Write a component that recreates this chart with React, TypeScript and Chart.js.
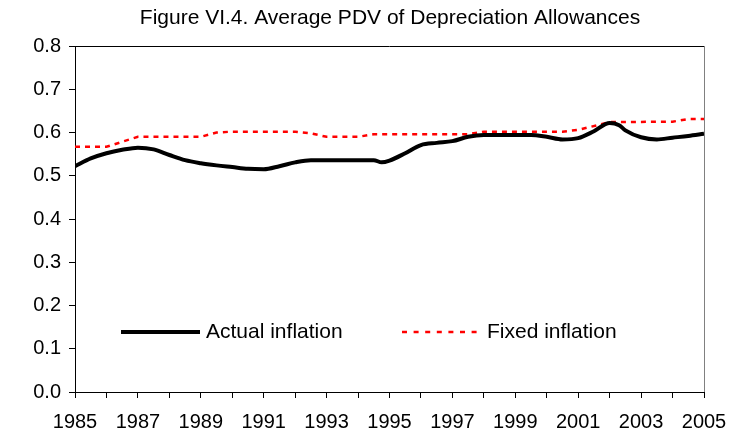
import React, { useEffect, useRef } from "react";
import { Chart, registerables } from "chart.js";

Chart.register(...registerables);

const TITLE = "Figure VI.4. Average PDV of Depreciation Allowances";
const SERIES_NAMES = ["Actual inflation", "Fixed inflation"];
const Y_TICKS_MIN = 0;
const Y_TICKS_MAX = 0.8;

const actualYears = [
  1985.0, 1985.5, 1986.0, 1986.5, 1987.0, 1987.5, 1988.0, 1988.5, 1989.0, 1989.5,
  1990.0, 1990.5, 1991.0, 1991.5, 1992.0, 1992.5, 1993.0, 1993.5, 1994.0, 1994.5,
  1994.75, 1995.0, 1995.5, 1996.0, 1996.5, 1997.0, 1997.5, 1998.0, 1998.5, 1999.0,
  1999.5, 2000.0, 2000.5, 2001.0, 2001.5, 2002.0, 2002.3, 2002.5, 2003.0, 2003.5,
  2004.0, 2004.5, 2005.0,
];
const actualValues = [
  0.522, 0.540, 0.552, 0.560, 0.565, 0.561, 0.548, 0.536, 0.529, 0.524,
  0.520, 0.516, 0.515, 0.522, 0.531, 0.536, 0.536, 0.536, 0.536, 0.536,
  0.531, 0.535, 0.552, 0.571, 0.576, 0.580, 0.590, 0.594, 0.594, 0.594,
  0.594, 0.590, 0.584, 0.587, 0.603, 0.622, 0.617, 0.605, 0.589, 0.584,
  0.588, 0.592, 0.597,
];

const fixedYears = [
  1985.0, 1986.0, 1987.0, 1989.0, 1989.5, 1990.0, 1992.0, 1992.5, 1993.0, 1994.0,
  1994.5, 1997.5, 1998.0, 2000.5, 2001.0, 2002.0, 2004.0, 2004.5, 2005.0,
];
const fixedValues = [
  0.567, 0.567, 0.590, 0.590, 0.600, 0.602, 0.602, 0.598, 0.590, 0.590,
  0.596, 0.596, 0.602, 0.602, 0.606, 0.624, 0.625, 0.631, 0.631,
];

const FONT = "'Liberation Sans', Arial, sans-serif";

export default function App() {
  const ref = useRef<HTMLCanvasElement | null>(null);

  useEffect(() => {
    if (!ref.current) return;
    const decor = {
      id: "decor",
      afterDraw(chart: any) {
        const { ctx, chartArea } = chart;
        ctx.save();
        // title
        ctx.fillStyle = "#000";
        ctx.font = `21px ${FONT}`;
        ctx.textAlign = "center";
        ctx.textBaseline = "middle";
        ctx.fillText(TITLE, 390, 18);
        // top and right border
        ctx.lineWidth = 1;
        ctx.strokeStyle = "#000";
        ctx.beginPath();
        ctx.moveTo(chartArea.left, chartArea.top + 0.5);
        ctx.lineTo(chartArea.right, chartArea.top + 0.5);
        ctx.stroke();
        ctx.strokeStyle = "#808080";
        ctx.beginPath();
        ctx.moveTo(chartArea.right + 0.5, chartArea.top);
        ctx.lineTo(chartArea.right + 0.5, chartArea.bottom);
        ctx.stroke();
        // legend
        const ly = 332;
        ctx.strokeStyle = "#000";
        ctx.lineWidth = 4;
        ctx.setLineDash([]);
        ctx.beginPath();
        ctx.moveTo(121, ly);
        ctx.lineTo(200, ly);
        ctx.stroke();
        ctx.font = `21px ${FONT}`;
        ctx.textAlign = "left";
        ctx.fillStyle = "#000";
        ctx.fillText(SERIES_NAMES[0], 206, ly);
        ctx.strokeStyle = "#ff0000";
        ctx.lineWidth = 2.5;
        ctx.setLineDash([5, 6.6]);
        ctx.beginPath();
        ctx.moveTo(402, ly);
        ctx.lineTo(477, ly);
        ctx.stroke();
        ctx.setLineDash([]);
        ctx.fillText(SERIES_NAMES[1], 487, ly);
        ctx.restore();
      },
    };

    const chart = new Chart(ref.current, {
      type: "line",
      data: {
        datasets: [
          {
            label: SERIES_NAMES[0],
            data: actualYears.map((x, i) => ({ x, y: actualValues[i] })),
            borderColor: "#000",
            borderWidth: 4,
            pointRadius: 0,
            cubicInterpolationMode: "monotone",
            fill: false,
          },
          {
            label: SERIES_NAMES[1],
            data: fixedYears.map((x, i) => ({ x, y: fixedValues[i] })),
            borderColor: "#ff0000",
            borderWidth: 2.5,
            borderDash: [5, 5],
            pointRadius: 0,
            tension: 0,
            fill: false,
          },
        ],
      },
      options: {
        animation: false,
        responsive: true,
        maintainAspectRatio: false,
        layout: { padding: { top: 46, right: 28, left: 0, bottom: 0 } },
        plugins: { legend: { display: false }, tooltip: { enabled: false }, title: { display: false } },
        scales: {
          x: {
            type: "linear",
            min: 1985,
            max: 2005,
            afterFit(axis: any) {
              axis.height = 42;
              axis.paddingRight = 0;
              axis.paddingLeft = 0;
            },
            ticks: {
              stepSize: 1,
              autoSkip: false,
              maxRotation: 0,
              color: "#000",
              font: { family: FONT, size: 20 },
              padding: 12,
              callback: (v: any) => (Number(v) % 2 === 1 ? String(v) : ""),
            },
            grid: { drawOnChartArea: false, drawTicks: true, tickLength: 6, color: "#000" },
            border: { color: "#000", width: 1 },
          },
          y: {
            min: Y_TICKS_MIN,
            max: Y_TICKS_MAX,
            afterFit(axis: any) {
              axis.width = 75;
              axis.paddingTop = 0;
              axis.paddingBottom = 0;
            },
            ticks: {
              stepSize: 0.1,
              color: "#000",
              font: { family: FONT, size: 20 },
              padding: 8,
              callback: (v: any) => Number(v).toFixed(1),
            },
            grid: { drawOnChartArea: false, drawTicks: true, tickLength: 6, color: "#000" },
            border: { color: "#000", width: 1 },
          },
        },
      },
      plugins: [decor],
    });
    return () => chart.destroy();
  }, []);

  return (
    <div style={{ position: "absolute", left: 0, top: 0, width: 732, height: 434, background: "#fff" }}>
      <canvas ref={ref} />
    </div>
  );
}
